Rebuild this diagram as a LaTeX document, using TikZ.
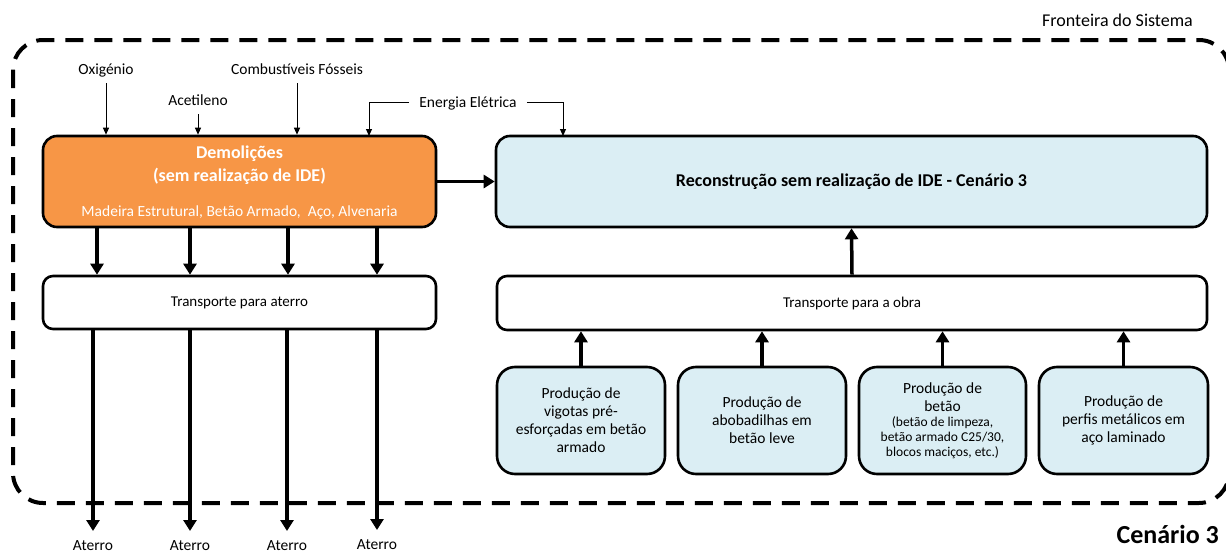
\documentclass[tikz,border=0pt]{standalone}
\usepackage{fontspec}
\setmainfont{Carlito}
\usetikzlibrary{arrows.meta,calc}
\definecolor{demorange}{HTML}{F79646}
\definecolor{lightaqua}{HTML}{DBEEF4}
\tikzset{
  box/.style={draw=black, line width=2.6pt, rounded corners=14pt, inner sep=0pt, align=center},
  orangebox/.style={box, fill=demorange},
  aquabox/.style={box, fill=lightaqua},
  whitebox/.style={box, fill=white, rounded corners=10pt},
  prodbox/.style={box, fill=lightaqua, rounded corners=18pt, minimum width=168pt, minimum height=107pt,
     font=\fontsize{15.5}{18}\selectfont},
  lbl/.style={inner sep=0pt, font=\fontsize{15.5}{18}\selectfont},
  thinarrow/.style={line width=1pt, -{Triangle[width=6pt,length=7pt]}},
  thickarrow/.style={line width=3.5pt, -{Triangle[width=13pt,length=11pt]}},
  boundary/.style={line width=4pt, dash pattern=on 18pt off 11pt, rounded corners=30pt},
}
\begin{document}
\begin{tikzpicture}[x=1pt,y=-1pt]
\useasboundingbox (0,0) rectangle (1226,554);

% system boundary
\draw[boundary] (13,40) rectangle (1229,503);
\node[lbl, anchor=base east, font=\fontsize{18}{20}\selectfont] (fronteira) at (1193,27) {Fronteira do Sistema};
\node[inner sep=0pt, anchor=base east, font=\fontsize{26}{30}\selectfont\bfseries] (cenario) at (1219,543) {Cenário 3};

% main boxes
\node[orangebox, minimum width=393pt, minimum height=91pt] (demol) at (239.5,181.5) {};
\node[lbl, anchor=base, text=white, font=\fontsize{18}{20}\selectfont\bfseries] (demolt1) at (239.5,158) {Demolições};
\node[lbl, anchor=base, text=white, font=\fontsize{18}{20}\selectfont\bfseries] (demolt2) at (239.5,181) {(sem realização de IDE)};
\node[lbl, anchor=base, text=white] (demolt3) at (239.5,216) {Madeira Estrutural, Betão Armado,\ \ Aço, Alvenaria};

\node[aquabox, minimum width=711pt, minimum height=91pt, font=\fontsize{18}{20}\selectfont\bfseries] (recon) at (851.5,181.5)
  {Reconstrução sem realização de IDE - Cenário 3};

\node[whitebox, minimum width=393pt, minimum height=53pt, font=\fontsize{15}{18}\selectfont] (transA) at (239.5,302.5) {Transporte\ para aterro};
\node[whitebox, minimum width=710pt, minimum height=54pt, font=\fontsize{15}{18}\selectfont] (transO) at (852,303) {Transporte\ para a obra};

% production boxes
\node[prodbox] (p1) at (581,420.5) {Produção de\\vigotas pré-\\esforçadas em betão\\armado};
\node[prodbox] (p2) at (762,420.5) {Produção de\\abobadilhas em\\betão leve};
\node[prodbox, minimum width=167pt] (p3) at (942.5,420.5)
  {Produção de\\betão\\[-3pt]\fontsize{13.5}{15}\selectfont (betão de limpeza,\\[-3pt]\fontsize{13.5}{15}\selectfont betão armado C25/30,\\[-3pt]\fontsize{13.5}{15}\selectfont blocos maciços, etc.)};
\node[prodbox, minimum width=169pt] (p4) at (1123.5,420.5) {Produção de\\perfis metálicos em\\aço laminado};

% inputs
\node[lbl, anchor=base] (oxig) at (106,74) {Oxigénio};
\node[lbl, anchor=base] (acet) at (198,105) {Acetileno};
\node[lbl, anchor=base] (comb) at (297,74) {Combustíveis Fósseis};
\node[inner sep=0pt, inner xsep=10pt, anchor=base, font=\fontsize{15.5}{18}\selectfont] (ener) at (468,107) {Energia Elétrica};
\coordinate (e1) at (369,136);
\coordinate (e2) at (563,136);

\draw[thinarrow] ([yshift=-9pt]oxig.base) -- (oxig.base |- demol.north);
\draw[thinarrow] ([yshift=-9pt]acet.base) -- (acet.base |- demol.north);
\draw[thinarrow] ([yshift=-9pt]comb.base) -- (comb.base |- demol.north);
\draw[thinarrow] (ener.west) -| (e1);
\draw[thinarrow] (ener.east) -| (e2);

% demolition to reconstruction
\draw[thickarrow] (demol.east) -- (recon.west);

% demolition to transport
\coordinate (d1) at (97,0);
\coordinate (d2) at (190,0);
\coordinate (d3) at (288,0);
\coordinate (d4) at (377,0);
\foreach \d in {d1,d2,d3,d4}
  \draw[thickarrow] (demol.south -| \d) -- (transA.north -| \d);

% transport to landfill
\node[lbl, anchor=north] (a1) at (93,540) {Aterro};
\node[lbl, anchor=north] (a2) at (190,540) {Aterro};
\node[lbl, anchor=north] (a3) at (287,540) {Aterro};
\node[lbl, anchor=north] (a4) at (377,539) {Aterro};
\foreach \a in {a1,a2,a3,a4}
  \draw[thickarrow] (transA.south -| \a.north) -- ([yshift=9pt]\a.north);

% production to transport to reconstruction
\foreach \p in {p1,p2,p3,p4}
  \draw[thickarrow] (\p.north) -- (\p.north |- transO.south);
\draw[thickarrow] (transO.north) -- (recon.south);
\end{tikzpicture}
\end{document}
